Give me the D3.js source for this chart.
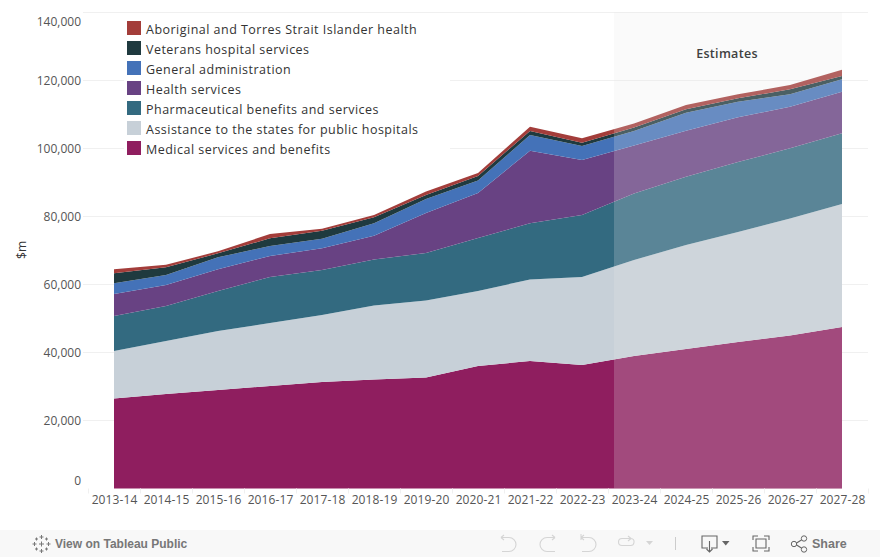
<!DOCTYPE html>
<html><head><meta charset="utf-8">
<style>
html,body{margin:0;padding:0;background:#fff;}
svg{display:block;}
text{font-family:"Open Sans",sans-serif;}
</style>
<script src="https://cdn.jsdelivr.net/npm/d3@7/dist/d3.min.js"></script>
</head><body>
<svg id="c" width="880" height="557"></svg>
<script>
const years=["2013-14","2014-15","2015-16","2016-17","2017-18","2018-19","2019-20","2020-21","2021-22","2022-23","2023-24","2024-25","2025-26","2026-27","2027-28"];
const medical=[26470,27790,28970,30150,31320,32060,32650,36030,37500,36320,38970,41030,43090,45000,47500];
const assistance=[13970,15590,17350,18530,19700,21760,22650,22060,23970,25880,28230,30590,32350,34410,36170];
const pharma=[10290,10290,11760,13530,13230,13530,13970,15590,16530,18230,19560,20090,20590,20650,20790];
const healthSvc=[6470,6180,6380,6180,6380,7000,11760,13230,21350,16180,14120,13530,13150,12230,12230];
const genAdmin=[3150,2940,3530,2940,2820,3650,4120,3680,4620,4120,4260,5290,4590,3650,3650];
const veterans=[2940,2260,1180,2260,2350,1760,1180,1320,1180,970,1030,1000,1000,1470,970];
const aboriginal=[1180,760,590,1260,590,680,1030,880,1260,1290,1180,1260,1180,1260,1850];
const seriesNames=["Medical services and benefits","Assistance to the states for public hospitals","Pharmaceutical benefits and services","Health services","General administration","Veterans hospital services","Aboriginal and Torres Strait Islander health"];
const seriesValues=[medical,assistance,pharma,healthSvc,genAdmin,veterans,aboriginal];
const seriesColors=["#8f1e5f","#c7d0d8","#336a80","#684283","#4472b8","#1f3a3f","#a33d3a"];
const yTicks=[0,20000,40000,60000,80000,100000,120000,140000];
const estimateStart="2023-24", estimateLabel="Estimates", yTitle="$m";

const svg=d3.select("#c");
const y=d3.scaleLinear().domain([0,140000]).range([488.5,12.5]);
const x=d3.scalePoint().domain(years).range([114,842]);
const step=x.step();
const plotL=x(years[0])-step/2, plotR=x(years[years.length-1])+step/2;

// gridlines
svg.append("g").selectAll("line").data(yTicks.filter(d=>d>0)).join("line")
 .attr("x1",83).attr("x2",plotR).attr("y1",d=>y(d)).attr("y2",d=>y(d))
 .attr("stroke","#f0f0f0");

// stacked areas
const rows=years.map((yr,i)=>{const r={year:yr};seriesNames.forEach((n,j)=>r[n]=seriesValues[j][i]);return r;});
const stack=d3.stack().keys(seriesNames)(rows);
const area=d3.area().x(d=>x(d.data.year)).y0(d=>y(d[0])).y1(d=>y(d[1]));
svg.append("g").selectAll("path").data(stack).join("path")
 .attr("d",area).attr("fill",(d,i)=>seriesColors[i]);

// estimates shade
const shadeX=x(estimateStart)-20;
svg.append("rect").attr("x",shadeX).attr("y",y(140000)).attr("width",x(years[14])-shadeX).attr("height",y(0)-y(140000))
 .attr("fill","#e8e8e8").attr("fill-opacity",.22);
svg.append("text").attr("x",727).attr("y",58).attr("text-anchor","middle")
 .attr("font-size",12.5).attr("font-weight",600).attr("letter-spacing",".3").attr("fill","#404040").text(estimateLabel);

// legend
const leg=svg.append("g");
leg.append("rect").attr("x",124).attr("y",15).attr("width",326).attr("height",146).attr("fill","#fff");
const order=d3.range(seriesNames.length).reverse();
const rowsG=leg.selectAll("g").data(order).join("g").attr("transform",(d,i)=>`translate(127,${21+i*20})`);
rowsG.append("rect").attr("width",14).attr("height",14).attr("fill",d=>seriesColors[d]);
rowsG.append("text").attr("x",19).attr("y",13).attr("font-size",12.5).attr("fill","#333").attr("letter-spacing",".48").text(d=>seriesNames[d]);

// y axis
const ya=svg.append("g").attr("transform","translate(81,0)")
 .call(d3.axisLeft(y).tickValues(yTicks).tickSize(0).tickPadding(0).tickFormat(d3.format(",")));
ya.select(".domain").remove();
ya.selectAll("text").attr("font-size",12).attr("fill","#555").attr("font-family",'"Open Sans",sans-serif')
 .attr("dy",d=>d===140000?"1.05em":d===0?"-.3em":".32em");
svg.append("text").attr("transform","translate(26,250) rotate(-90)").attr("text-anchor","middle")
 .attr("font-size",12).attr("fill","#333").text(yTitle);

// x axis
const xa=svg.append("g").attr("transform",`translate(0,${y(0)})`)
 .call(d3.axisBottom(x).tickSize(0).tickPadding(7));
xa.select(".domain").remove();
xa.selectAll("text").attr("font-size",12).attr("letter-spacing",".1").attr("fill","#555").attr("font-family",'"Open Sans",sans-serif');
svg.append("g").selectAll("line").data(years.concat(["end"])).join("line")
 .attr("x1",(d,i)=>Math.round(plotL+i*step)+.5).attr("x2",(d,i)=>Math.round(plotL+i*step)+.5)
 .attr("y1",y(0)).attr("y2",y(0)+5).attr("stroke","#f0f0f0");

// toolbar
const tb=svg.append("g");
tb.append("rect").attr("x",0).attr("y",530).attr("width",880).attr("height",27).attr("fill","#f8f8f8");
tb.append("text").attr("x",55).attr("y",548).attr("font-size",12).attr("font-weight",700).attr("fill","#777")
 .style("font-family",'"Liberation Sans",Arial,sans-serif').text("View on Tableau Public");
tb.append("text").attr("x",812).attr("y",548).attr("font-size",12.5).attr("font-weight",700).attr("fill","#777")
 .style("font-family",'"Liberation Sans",Arial,sans-serif').text("Share");
// logo
const logo=tb.append("g").attr("stroke","#777").attr("stroke-width",1).attr("fill","none");
[[41.5,537,2],[41.5,544,2.500],[41.5,551,2],[34.5,544,2],[48.5,544,2],[36.5,539,1.500],[46.5,539,1.500],[36.5,549,1.500],[46.5,549,1.500]].forEach(([cx,cy,r])=>{
 logo.append("path").attr("d",`M${cx-r} ${cy}H${cx+r}M${cx} ${cy-r}V${cy+r}`);
});
// icons
const light="#d5d5d5", dark="#666";
const icon=(d,c)=>tb.append("path").attr("d",d).attr("fill","none").attr("stroke",c).attr("stroke-width",1.1);
icon("M501 537.5h8a7 7 0 0 1 0 14h-7M501 537.5l3-2.5M501 537.5l3 2.5",light);
icon("M555 537.5h-8a7 7 0 0 0 0 14h8M555 537.5l-3-2.5M555 537.5l-3 2.5",light);
icon("M581 534v6M581 537.5h8a7 7 0 0 1 0 14h-7M581 537.5l3-2.5M581 537.5l3 2.5",light);
icon("M631 538.5h-9a3.5 3.5 0 0 0 0 7h8a3.5 3.5 0 0 0 1-7M631 538.5l-3-2.5M631 538.5l-3 2.5",light);
tb.append("path").attr("d","M646 541h7l-3.500 4z").attr("fill",light);
tb.append("line").attr("x1",675.500).attr("x2",675.500).attr("y1",537).attr("y2",550).attr("stroke","#ccc");
icon("M708 548h-6v-12h15v12h-6M709.500 541v10M706.500 549l3 3 3-3",dark);
tb.append("path").attr("d","M722 541h7.500l-3.750 4.500z").attr("fill",dark);
icon("M753 540v-4h5M769 540v-4h-5M753 547v4h5M769 547v4h-5M756 539h10v9h-10z",dark);
icon("M795 544l8-5M795 544l8 5",dark);
tb.selectAll(null).data([[794,544],[804,538.500],[804,549.500]]).join("circle").attr("cx",d=>d[0]).attr("cy",d=>d[1]).attr("r",2.700)
 .attr("fill","#f8f8f8").attr("stroke",dark);
</script>
</body></html>
